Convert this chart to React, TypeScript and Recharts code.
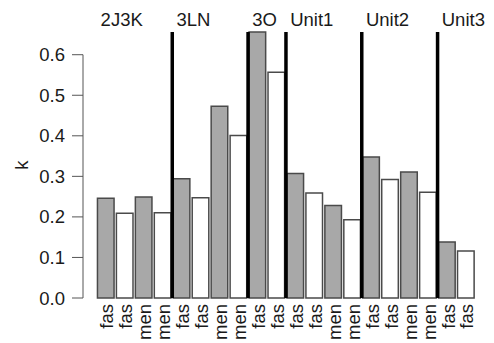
import React from 'react';
import { BarChart, Bar, XAxis, YAxis, Cell, ReferenceLine } from 'recharts';

const categoryLabels = [
  'fas', 'fas', 'men', 'men',
  'fas', 'fas', 'men', 'men',
  'fas', 'fas',
  'fas', 'fas', 'men', 'men',
  'fas', 'fas', 'men', 'men',
  'fas', 'fas',
];
const kValues = [
  0.246, 0.209, 0.249, 0.21,
  0.294, 0.247, 0.473, 0.401,
  0.656, 0.557,
  0.307, 0.259, 0.228, 0.193,
  0.348, 0.292, 0.311, 0.261,
  0.138, 0.116,
];
const groupNames = ['2J3K', '3LN', '3O', 'Unit1', 'Unit2', 'Unit3'];
const groupSizes = [4, 4, 2, 4, 4, 2];
const yTicks = [0, 0.1, 0.2, 0.3, 0.4, 0.5, 0.6];

const groupStarts: number[] = [];
groupSizes.reduce((acc, n) => {
  groupStarts.push(acc);
  return acc + n;
}, 0);
const separators = groupStarts.slice(1).map((s) => s - 0.5);
const kMax = Math.max(...kValues);

const data = kValues.map((k, i) => ({ pos: i, k, label: categoryLabels[i] }));

const X_DOMAIN: [number, number] = [-1.21, 19.95];
const FONT = '"Liberation Sans", Arial, Helvetica, sans-serif';
const TEXT = '#1a1a1a';

const BottomTick = (props: any) => {
  const { x, y, payload } = props;
  const label = categoryLabels[payload.value] ?? '';
  return (
    <text
      x={x}
      y={y}
      dy={7.5}
      transform={`rotate(-90, ${x}, ${y})`}
      textAnchor="end"
      fontFamily={FONT}
      fontSize={18.5}
      fill={TEXT}
    >
      {label}
    </text>
  );
};

const GroupLabel = (props: any) => {
  const vb = props.viewBox || {};
  return (
    <text
      x={vb.x}
      y={(vb.y ?? 0) - 6.3}
      textAnchor="start"
      fontFamily={FONT}
      fontSize={18.5}
      fill={TEXT}
    >
      {props.name}
    </text>
  );
};

const KLabel = (props: any) => {
  const vb = props.viewBox || {};
  const cx = 22;
  const cy = (vb.y ?? 0) + (vb.height ?? 0) / 2;
  return (
    <text
      x={cx}
      y={cy}
      transform={`rotate(-90, ${cx}, ${cy})`}
      textAnchor="middle"
      dy={6}
      fontFamily={FONT}
      fontSize={18.5}
      fill={TEXT}
    >
      k
    </text>
  );
};

export default function App() {
  return (
    <div style={{ position: 'absolute', left: 0, top: 0, width: 494, height: 343, background: '#fff' }}>
      <BarChart width={494} height={343} data={data} margin={{ top: 32, right: 10, bottom: 0, left: 0 }}>
        <XAxis
          dataKey="pos"
          type="number"
          domain={X_DOMAIN}
          allowDataOverflow
          ticks={data.map((d) => d.pos)}
          interval={0}
          axisLine={false}
          tickLine={false}
          tickSize={0}
          tickMargin={6}
          height={45}
          tick={<BottomTick />}
        />
        <YAxis
          type="number"
          domain={[0, kMax]}
          ticks={yTicks}
          interval={0}
          width={83}
          axisLine={false}
          tickLine={{ stroke: '#555', strokeWidth: 1 }}
          tickSize={11}
          tickMargin={7}
          tickFormatter={(v: number) => v.toFixed(1)}
          tick={{ fontFamily: FONT, fontSize: 18.5, fill: TEXT }}
          label={<KLabel />}
        />
        <ReferenceLine
          segment={[{ x: X_DOMAIN[0], y: 0 }, { x: X_DOMAIN[0], y: yTicks[yTicks.length - 1] }]}
          stroke="#555"
          strokeWidth={1}
          ifOverflow="visible"
        />
        <Bar dataKey="k" barSize={16.6} stroke="#4a4a4a" strokeWidth={1.5} isAnimationActive={false}>
          {data.map((d, i) => (
            <Cell key={i} fill={i % 2 === 0 ? '#a8a8a8' : '#ffffff'} />
          ))}
        </Bar>
        {separators.map((s) => (
          <ReferenceLine
            key={s}
            segment={[{ x: s, y: 0 }, { x: s, y: kMax }]}
            stroke="#000"
            strokeWidth={3.5}
            ifOverflow="visible"
          />
        ))}
        {groupStarts.map((s, i) => (
          <ReferenceLine
            key={`g${i}`}
            x={s - 0.28}
            stroke="none"
            ifOverflow="visible"
            label={<GroupLabel name={groupNames[i]} />}
          />
        ))}
      </BarChart>
    </div>
  );
}
